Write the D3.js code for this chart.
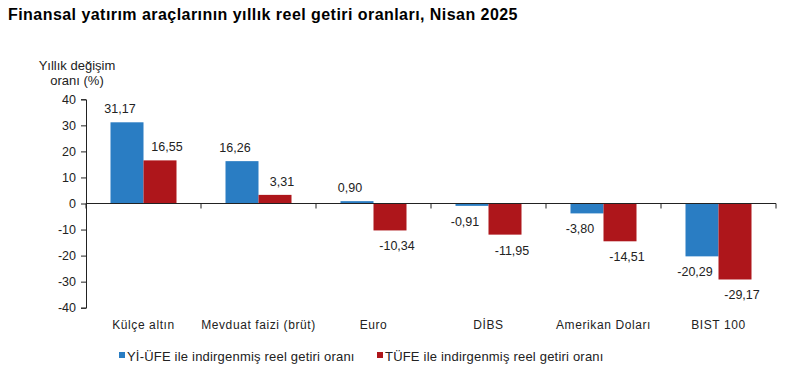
<!DOCTYPE html>
<html><head><meta charset="utf-8">
<script src="https://cdn.jsdelivr.net/npm/d3@7"></script>
<style>body{margin:0;background:#fff}svg{display:block;font-family:"Liberation Sans",Arial,sans-serif}</style>
</head><body><svg id="c" width="808" height="377"></svg>
<script>
const categories = ["Külçe altın","Mevduat faizi (brüt)","Euro","DİBS","Amerikan Doları","BIST 100"];
const seriesNames = ["Yİ-ÜFE ile indirgenmiş reel getiri oranı","TÜFE ile indirgenmiş reel getiri oranı"];
const yiufe = [31.17,16.26,0.90,-0.91,-3.80,-20.29];
const tufe = [16.55,3.31,-10.34,-11.95,-14.51,-29.17];
const yTicks = [40,30,20,10,0,-10,-20,-30,-40];
const colors = ["#2a7dc3","#ae161b"];

const svg = d3.select("#c");
const x0 = d3.scaleBand().domain(categories).range([86,776]).paddingInner(0).paddingOuter(0);
const x1 = d3.scaleBand().domain([0,1]).range([0,66]);
const y = d3.scaleLinear().domain([-40,40]).range([307.7,99.3]);
const fmt = v => v.toFixed(2).replace(".",",");

svg.append("text").attr("x",8).attr("y",20).attr("font-size",16).attr("letter-spacing",0.45).attr("font-weight","bold").text("Finansal yatırım araçlarının yıllık reel getiri oranları, Nisan 2025");

svg.append("text").attr("x",77).attr("y",70).attr("text-anchor","middle").attr("font-size",13).attr("fill","#222").text("Yıllık değişim");
svg.append("text").attr("x",77).attr("y",85).attr("text-anchor","middle").attr("font-size",13).attr("fill","#222").text("oranı (%)");

const data = categories.map((c,i)=>({c, vals:[yiufe[i],tufe[i]]}));
const g = svg.append("g");
data.forEach(d=>{
  const cx = x0(d.c) + x0.bandwidth()/2 - 33;
  d.vals.forEach((v,k)=>{
    const bx = cx + x1(k);
    g.append("rect").attr("x",bx).attr("width",x1.bandwidth())
      .attr("y",y(Math.max(0,v))).attr("height",Math.abs(y(v)-y(0)))
      .attr("fill",colors[k]);
    g.append("text").attr("x",bx+x1.bandwidth()/2 + (k===0 ? -7 : 7))
      .attr("y", v>=0 ? y(v)-9 : y(v)+20)
      .attr("text-anchor","middle").attr("font-size",12.5).attr("fill","#222").text(fmt(v));
  });
});

// y axis
const yAxis = d3.axisLeft(y).tickValues(yTicks).tickSize(5).tickPadding(5).tickFormat(d=>d);
const ya = svg.append("g").attr("transform","translate(86,0)").call(yAxis);
ya.select(".domain").attr("stroke","#222");
ya.selectAll(".tick line").attr("stroke","#222");
ya.selectAll("text").attr("font-size",12.5).attr("fill","#222").attr("font-family","Liberation Sans, Arial, sans-serif");

// x axis at zero
const bounds = d3.range(categories.length+1).map(i=>86 + i*x0.step());
svg.append("line").attr("x1",86).attr("x2",776).attr("y1",y(0)).attr("y2",y(0)).attr("stroke","#222");
bounds.forEach(b=>svg.append("line").attr("x1",b).attr("x2",b).attr("y1",y(0)).attr("y2",y(0)+5).attr("stroke","#222"));

// category labels
categories.forEach(c=>{
  svg.append("text").attr("x",x0(c)+x0.bandwidth()/2).attr("y",329).attr("text-anchor","middle")
    .attr("font-size",12).attr("letter-spacing",0.6).attr("fill","#222").text(c);
});

// legend
const leg = [{x:119},{x:377}];
seriesNames.forEach((n,i)=>{
  svg.append("rect").attr("x",leg[i].x).attr("y",352).attr("width",6).attr("height",6).attr("fill",colors[i]);
  svg.append("text").attr("x",leg[i].x+8).attr("y",361).attr("font-size",13).attr("letter-spacing",0.2).attr("fill","#222").text(n);
});
</script></body></html>
